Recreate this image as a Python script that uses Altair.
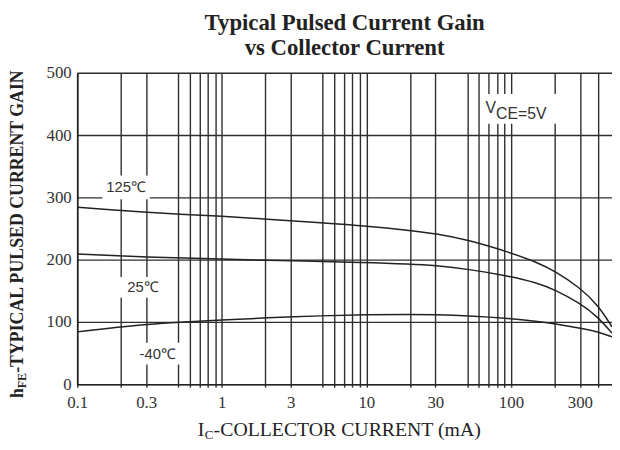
import altair as alt
import pandas as pd

# ---- data ----
ic_125 = [0.1, 0.2, 0.3, 0.5, 1, 2, 5, 10, 20, 30, 50, 100, 150, 200, 300, 400, 500]
gain_125 = [284, 279, 276, 273, 270, 265, 259, 254, 247, 242, 232, 211, 196, 182, 155, 127, 92]
ic_25 = [0.1, 0.3, 1, 3, 10, 20, 30, 50, 100, 150, 200, 300, 400, 500]
gain_25 = [209, 204, 201, 198, 195.5, 193, 190.5, 185, 173, 163, 152, 130, 108, 82]
ic_m40 = [0.1, 0.2, 0.3, 0.5, 1, 2, 5, 10, 20, 30, 50, 100, 150, 200, 300, 400, 500]
gain_m40 = [84, 92, 96, 99.5, 103, 106.5, 110, 111.5, 112, 111.5, 110, 105.5, 101, 97, 90, 84, 76]

x_grid = [0.1, 0.2, 0.3, 0.5, 0.6, 0.7, 0.8, 0.9,
          1, 2, 3, 5, 6, 7, 8, 9,
          10, 20, 30, 50, 60, 70, 80, 90,
          100, 200, 300, 400]
x_labels = [0.1, 0.3, 1, 3, 10, 30, 100, 300]
y_grid = [0, 50, 100, 150, 200, 250, 300, 350, 400, 450, 500]

label_text = ["125℃", "25℃", "-40℃"]
label_ic = [0.218, 0.285, 0.361]
label_gain = [316, 155.6, 49]
vce_ic = [78.8]
vce_gain = [443.6]

rows = []
for name, xs, vals in [("125", ic_125, gain_125), ("25", ic_25, gain_25), ("-40", ic_m40, gain_m40)]:
    for a, b in zip(xs, vals):
        rows.append({"Ic": a, "gain": b, "temp": name})
curves = pd.DataFrame(rows)
labels = pd.DataFrame({"Ic": label_ic, "gain": label_gain, "text": label_text})
vce = pd.DataFrame({"Ic": vce_ic, "gain": vce_gain})

W, H = 541, 315
xscale = alt.Scale(type="log", domain=[0.1, 500], nice=False)
yscale = alt.Scale(domain=[0, 500], nice=False)

grid_col = "#2e2e2e"
xenc = alt.X("Ic:Q", scale=xscale, axis=alt.Axis(
    values=x_grid, grid=True, gridColor=grid_col, gridWidth=1.4,
    labelExpr="indexof(" + str(x_labels) + ", datum.value) >= 0 ? toString(datum.value) : ''",
    labelFont="Liberation Serif", labelFontSize=17, labelColor="#333",
    labelPadding=8, tickSize=3, tickColor=grid_col, tickWidth=1.4,
    domainColor="#222", domainWidth=1.6, title=None, labelFlush=False,
    labelOverlap=False))
yenc = alt.Y("gain:Q", scale=yscale, axis=alt.Axis(
    values=y_grid, grid=True, gridColor=grid_col, gridWidth=1.4,
    labelExpr="datum.value % 100 == 0 ? datum.value : ''",
    labelFont="Liberation Serif", labelFontSize=17, labelColor="#333",
    labelPadding=6, tickSize=0, domainColor="#222", domainWidth=1.6,
    title=None))

lines = alt.Chart(curves).mark_line(color="#222", strokeWidth=1.5, interpolate="basis").encode(
    x=xenc, y=yenc, detail="temp:N")

def box(idx, w, h, dx=0.0, dy=0.0):
    src = labels.iloc[[idx]]
    return alt.Chart(src).mark_point(
        shape=f"M-1,-{h / w:.3f}H1V{h / w:.3f}H-1Z", filled=True, fill="white",
        opacity=1, strokeWidth=0, size=w * w, xOffset=dx, yOffset=dy).encode(
        x="Ic:Q", y="gain:Q")

boxes = [box(0, 48, 24), box(1, 60, 21, 2), box(2, 58, 22, 1)]
vce_box = alt.Chart(vce).mark_point(
    shape="M-1,-0.375H1V0.375H-1Z", filled=True, fill="white", opacity=1,
    strokeWidth=0, size=6400, xOffset=25, yOffset=1).encode(x="Ic:Q", y="gain:Q")

label_marks = alt.Chart(labels).mark_text(
    font="Liberation Sans", fontSize=15, color="#333", baseline="middle").encode(
    x="Ic:Q", y="gain:Q", text="text:N")
vce_v = alt.Chart(vce).mark_text(
    font="Liberation Sans", fontSize=16, color="#333", baseline="middle", align="right").encode(
    x="Ic:Q", y="gain:Q", text=alt.value("V"))
vce_sub = alt.Chart(vce).mark_text(
    font="Liberation Sans", fontSize=16, color="#333", baseline="middle", align="left", dy=6).encode(
    x="Ic:Q", y="gain:Q", text=alt.value("CE=5V"))

one = pd.DataFrame({"k": [0]})
# y-axis title pieces (rotated, reading upwards)
yt_x = -59.5
yt_y0 = 329
yt_h = alt.Chart(one).mark_text(font="Liberation Serif", fontSize=18, fontWeight="bold",
                                color="#222", angle=270, align="left", baseline="middle").encode(
    x=alt.value(yt_x), y=alt.value(yt_y0), text=alt.value("h"))
yt_fe = alt.Chart(one).mark_text(font="Liberation Serif", fontSize=12, fontWeight="bold",
                                 color="#222", angle=270, align="left", baseline="middle").encode(
    x=alt.value(yt_x + 3.5), y=alt.value(yt_y0 - 10), text=alt.value("FE"))
yt_rest = alt.Chart(one).mark_text(font="Liberation Serif", fontSize=18, fontWeight="bold",
                                   color="#222", angle=270, align="left", baseline="middle").encode(
    x=alt.value(yt_x), y=alt.value(yt_y0 - 10 - 15.5), text=alt.value("-TYPICAL PULSED CURRENT GAIN"))

# x-axis title pieces
xt_y = 361
xt_x0 = 122
xt_i = alt.Chart(one).mark_text(font="Liberation Serif", fontSize=20, color="#222",
                                align="left", baseline="middle").encode(
    x=alt.value(xt_x0), y=alt.value(xt_y), text=alt.value("I"))
xt_c = alt.Chart(one).mark_text(font="Liberation Serif", fontSize=13, color="#222",
                                align="left", baseline="middle").encode(
    x=alt.value(xt_x0 + 7), y=alt.value(xt_y + 5), text=alt.value("C"))
xt_rest = alt.Chart(one).mark_text(font="Liberation Serif", fontSize=20, color="#222",
                                   align="left", baseline="middle").encode(
    x=alt.value(xt_x0 + 16), y=alt.value(xt_y), text=alt.value("-COLLECTOR CURRENT (mA)"))

chart = alt.layer(
    *boxes, vce_box, lines, label_marks, vce_v, vce_sub,
    yt_h, yt_fe, yt_rest, xt_i, xt_c, xt_rest
).properties(
    width=W, height=H,
    title=alt.TitleParams(
        text=["Typical Pulsed Current Gain", "vs Collector Current"],
        font="Liberation Serif", fontSize=23, fontWeight="bold", color="#222",
        anchor="middle", offset=4, dx=0, lineHeight=25.5),
    autosize=alt.AutoSizeParams(type="none"),
    padding={"left": 70, "top": 63, "right": 0, "bottom": 60},
).configure_view(stroke=None).configure(background="white")

chart.save("out.html", embed_options={"renderer": "svg", "actions": False})
